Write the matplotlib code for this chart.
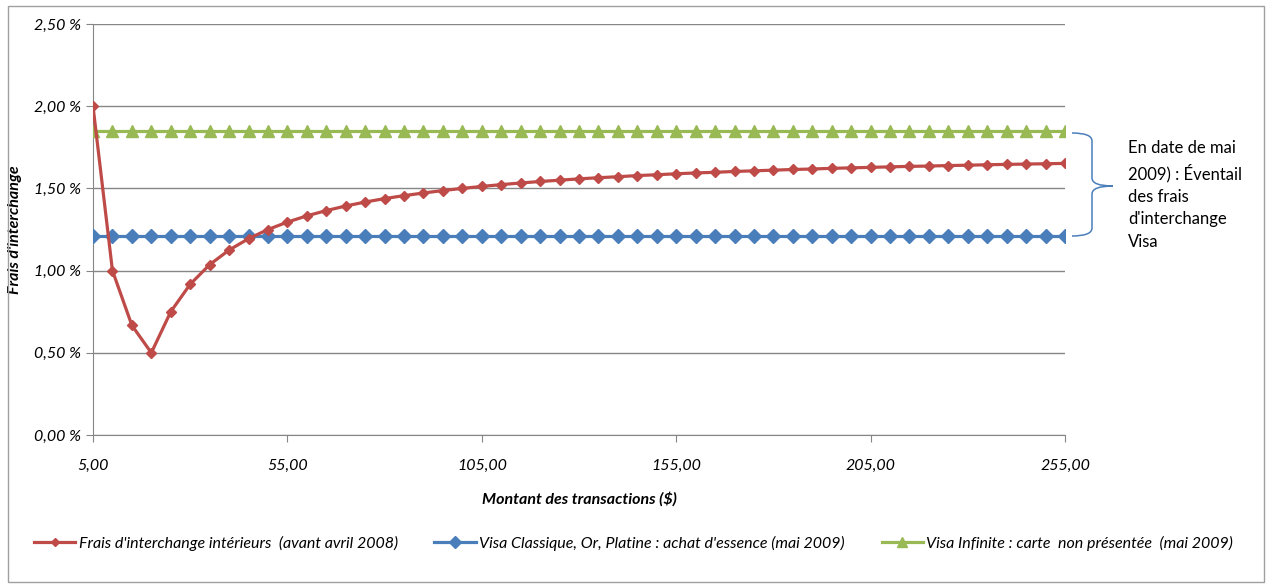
import matplotlib
matplotlib.use("Agg")
import matplotlib.pyplot as plt
from matplotlib.path import Path
from matplotlib.patches import PathPatch, Rectangle

plt.rcParams['font.family'] = ['Lato', 'DejaVu Sans']

montants = [5, 10, 15, 20, 25, 30, 35, 40, 45, 50, 55, 60, 65, 70, 75, 80, 85, 90,
            95, 100, 105, 110, 115, 120, 125, 130, 135, 140, 145, 150, 155, 160,
            165, 170, 175, 180, 185, 190, 195, 200, 205, 210, 215, 220, 225, 230,
            235, 240, 245, 250, 255]
frais_interieurs = [2.00, 1.00, 0.667, 0.50, 0.75, 0.917, 1.036, 1.125, 1.194, 1.25,
                    1.295, 1.333, 1.365, 1.393, 1.417, 1.438, 1.456, 1.472, 1.487,
                    1.50, 1.512, 1.523, 1.533, 1.542, 1.55, 1.558, 1.565, 1.571,
                    1.578, 1.583, 1.589, 1.594, 1.598, 1.603, 1.607, 1.611, 1.615,
                    1.618, 1.622, 1.625, 1.628, 1.631, 1.634, 1.636, 1.639, 1.641,
                    1.644, 1.646, 1.648, 1.65, 1.652]
visa_classique = [1.21] * len(montants)
visa_infinite = [1.85] * len(montants)

noms = ["Frais d'interchange intérieurs  (avant avril 2008)",
        "Visa Classique, Or, Platine : achat d'essence (mai 2009)",
        "Visa Infinite : carte  non présentée  (mai 2009)"]
y_ticks = [0, 0.5, 1.0, 1.5, 2.0, 2.5]
y_labels = ["0,00 %", "0,50 %", "1,00 %", "1,50 %", "2,00 %", "2,50 %"]
x_ticks = [5, 55, 105, 155, 205, 255]
x_labels = ["5,00", "55,00", "105,00", "155,00", "205,00", "255,00"]

rouge, bleu, vert = '#be4b48', '#4a7ebb', '#98b954'
fs = 11.5

fig = plt.figure(figsize=(12.67, 5.85), dpi=100)
ax = fig.add_axes([93/1267, 1-435/585, 972/1267, 411/585])

l2, = ax.plot(montants, visa_classique, color=bleu, lw=2.3, marker='D', ms=7.5,
              label=noms[1], zorder=3)
l3, = ax.plot(montants, visa_infinite, color=vert, lw=2.3, marker='^', ms=9,
              label=noms[2], zorder=3)
l1, = ax.plot(montants, frais_interieurs, color=rouge, lw=2.3, marker='D', ms=5,
              label=noms[0], zorder=4)

ax.set_xlim(5, 255)
ax.set_ylim(0, 2.5)
ax.set_yticks(y_ticks)
ax.set_yticklabels(y_labels, fontstyle='italic', fontsize=fs)
ax.set_xticks(x_ticks)
ax.set_xticklabels(x_labels, fontstyle='italic', fontsize=fs)
ax.tick_params(axis='both', colors='#868686', labelcolor='black', length=5)
ax.tick_params(axis='x', pad=12)
ax.grid(axis='y', color='#868686', lw=1)
for s in ['top', 'right']:
    ax.spines[s].set_visible(False)
ax.spines['left'].set_color('#868686')
ax.spines['bottom'].set_color('#868686')
ax.set_axisbelow(True)

ax.set_ylabel("Frais d'interchange", fontstyle='italic', fontweight='bold', fontsize=fs)
ax.yaxis.set_label_coords(-(93 - 22) / 972, 0.5)
ax.set_xlabel("Montant des transactions ($)", fontstyle='italic', fontweight='bold',
              fontsize=fs, labelpad=14)

leg = fig.legend(handles=[l1, l2, l3], loc='center', bbox_to_anchor=(0.5, 1-543/585),
                 ncol=3, frameon=False, prop={'style': 'italic', 'size': fs},
                 handlelength=2.6, handletextpad=0.2, columnspacing=2.3, markerscale=0.75)

# accolade
W, H = 1267, 585
def fx(px):
    return px / W
def fy(py):
    return 1 - py / H
x0, xm, xt = 1072, 1092, 1113
yt, yc, yb = 133, 186, 236
r = 8
verts = [(x0, yt), (xm, yt), (xm, yt + r), (xm, yc - r), (xm, yc), (xt, yc),
         (xm, yc), (xm, yc + r), (xm, yb - r), (xm, yb), (x0, yb)]
codes = [Path.MOVETO, Path.CURVE3, Path.CURVE3, Path.LINETO, Path.CURVE3, Path.CURVE3,
         Path.CURVE3, Path.CURVE3, Path.LINETO, Path.CURVE3, Path.CURVE3]
verts = [(fx(a), fy(b)) for a, b in verts]
fig.patches.append(PathPatch(Path(verts, codes), transform=fig.transFigure,
                             fill=False, edgecolor=bleu, lw=1.1))
fig.text(fx(1128), fy(195), "En date de mai\n2009) : Éventail\ndes frais\nd'interchange\nVisa",
         ha='left', va='center', fontsize=12, linespacing=1.5)

fig.patches.append(Rectangle((8/W, 1 - 582/H), 1256/W, 576/H, transform=fig.transFigure,
                             fill=False, edgecolor='#a0a0a0', lw=1))

fig.savefig('out.png', dpi=100)
